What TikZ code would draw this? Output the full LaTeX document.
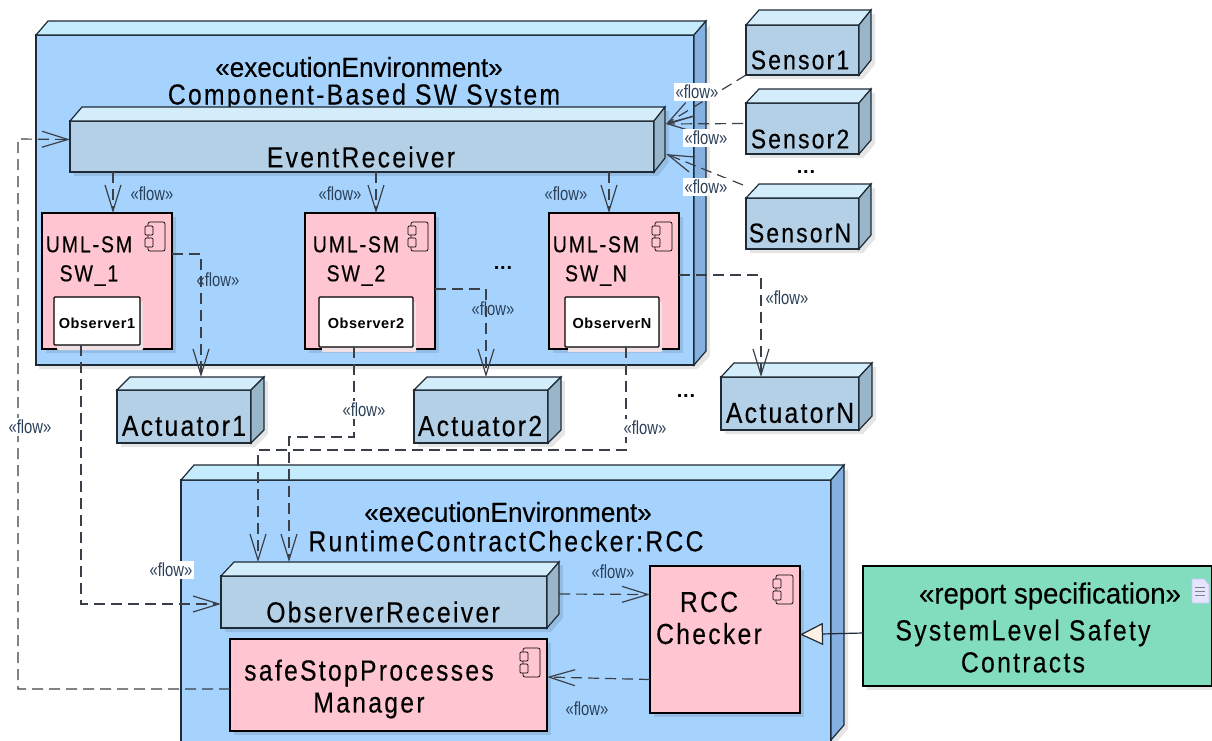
\documentclass[tikz,border=0pt]{standalone}
\usepackage{fontspec}
\setmainfont[LetterSpace=8, FakeStretch=0.85, FakeBold=0.25]{Liberation Sans}
\newfontfamily\stereofont[FakeStretch=0.95, FakeBold=0.25]{Liberation Sans}
\newfontfamily\flowfont[FakeStretch=0.78]{Liberation Sans}
\newfontfamily\obsfont[LetterSpace=4]{Liberation Sans}
\usepackage{tikz}
\usetikzlibrary{arrows.meta, shadows, calc}
\usepackage{xcolor}
\definecolor{envfront}{HTML}{A6D3FE}
\definecolor{envtop}{HTML}{C4ECFC}
\definecolor{envside}{HTML}{85B0E2}
\definecolor{cubefront}{HTML}{B4D0E6}
\definecolor{cubetop}{HTML}{D3EDFA}
\definecolor{cubeside}{HTML}{98B5C9}
\definecolor{compfill}{HTML}{FFC5D0}
\definecolor{specfill}{HTML}{82DCBE}
\definecolor{flowtext}{HTML}{2B4058}
\definecolor{edgecol}{HTML}{1E2A35}
\definecolor{flowcol}{HTML}{3A4048}
\tikzset{
	softshadow/.style={drop shadow={shadow xshift=4pt, shadow yshift=-4pt, fill=black, opacity=0.10}},
	envfrontbox/.style={draw=edgecol, line width=1.2pt, fill=envfront, anchor=north west, outer sep=0pt, inner sep=0pt},
	envtopface/.style={draw=edgecol, line width=1.2pt, fill=envtop},
	envsideface/.style={draw=edgecol, line width=1.2pt, fill=envside},
	cubefrontbox/.style={draw=edgecol, line width=1.2pt, fill=cubefront, anchor=north west, outer sep=0pt, inner sep=0pt},
	cubetopface/.style={draw=edgecol, line width=1.2pt, fill=cubetop},
	cubesideface/.style={draw=edgecol, line width=1.2pt, fill=cubeside},
	cubeshadow/.style={fill=black, opacity=0.10},
	compbox/.style={draw=black, line width=1.2pt, fill=compfill, anchor=north west, outer sep=0pt, inner sep=0pt, softshadow},
	observerbox/.style={draw=black, line width=1.2pt, fill=white, anchor=north west, outer sep=0pt, inner sep=0pt, rounded corners=1pt,
		drop shadow={shadow xshift=3pt, shadow yshift=-5pt, fill=compfill!80!black!30!white, opacity=1}},
	specbox/.style={draw=black, line width=1.2pt, fill=specfill, anchor=north west, outer sep=0pt, inner sep=0pt, softshadow},
	boxtext/.style={text=black, align=center, inner sep=0pt, font=\fontsize{29}{32}\selectfont},
	sensortext/.style={boxtext, font=\fontsize{27}{32}\selectfont},
	umltext/.style={boxtext, font=\fontsize{23}{29}\selectfont},
	stereotext/.style={text=black, inner sep=0pt, font=\stereofont\fontsize{27.5}{32}\selectfont},
	spectext/.style={stereotext, font=\stereofont\fontsize{29}{32}\selectfont},
	obstext/.style={text=black, inner sep=0pt, font=\obsfont\fontsize{14.5}{16}\selectfont\bfseries},
	dotstext/.style={text=black, inner sep=0pt, font=\obsfont\fontsize{20}{24}\selectfont\bfseries},
	flowlabel/.style={text=flowtext, inner sep=1pt, font=\flowfont\fontsize{19}{21}\selectfont},
	flowbox/.style={flowlabel, fill=white, inner sep=2pt},
	flow/.style={draw=flowcol, line width=1.2pt, dash pattern=on 11pt off 6pt, -{Straight Barb[length=26pt, width=16pt]}},
	realize/.style={draw=edgecol, line width=1.2pt, -{Triangle[open, length=23pt, width=22pt, fill=orange!10!white]}},
	compicon/.pic={
		\draw[black, fill=compfill, rounded corners=2pt, line width=0.7pt] (-24, 9) rectangle (-7, 38);
		\draw[black, fill=compfill, rounded corners=1pt, line width=0.7pt] (-27, 13) rectangle (-19, 22);
		\draw[black, fill=compfill, rounded corners=1pt, line width=0.7pt] (-27, 25) rectangle (-19, 34);
	},
	noteicon/.pic={
		\fill[blue!10!white, draw=blue!22!white, line width=0.8pt] (0, 0) -- (12, 0) -- (17, 6) -- (17, 24) -- (0, 24) -- cycle;
		\draw[gray, line width=0.8pt] (3, 8) -- (13, 8);
		\draw[gray, line width=0.8pt] (3, 12) -- (13, 12);
		\draw[gray, line width=0.8pt] (3, 16) -- (13, 16);
	}
}
\begin{document}
\begin{tikzpicture}[x=1pt, y=-1pt]
	\useasboundingbox (0, 0) rectangle (1212, 740);

	\fill[cubeshadow] (39, 38) -- (697, 38) -- (710, 25) -- (710, 356) -- (697, 369) -- (39, 369) -- cycle;
	\node[envfrontbox, minimum width=658pt, minimum height=330pt] (swsystem) at (36, 35) {};
	\draw[envtopface] (36, 35) -- (48, 21) -- (706, 21) -- (694, 35) -- cycle;
	\draw[envsideface] (694, 35) -- (706, 21) -- (706, 351) -- (694, 365) -- cycle;
	\node[stereotext] (swsystemstereo) at (359, 67) {«executionEnvironment»};
	\node[boxtext] (swsystemtext) at (364, 97) {Component-Based SW System};

	\fill[cubeshadow] (70, 121) -- (82, 107) -- (669, 111) -- (669, 162) -- (658, 176) -- (74, 176) -- cycle;
	\node[cubefrontbox, minimum width=584pt, minimum height=51pt] (eventreceiver) at (70, 121) {};
	\draw[cubetopface] (70, 121) -- (82, 107) -- (665, 107) -- (654, 121) -- cycle;
	\draw[cubesideface] (654, 121) -- (665, 107) -- (665, 158) -- (654, 172) -- cycle;
	\node[boxtext] (eventreceivertext) at (361, 157) {EventReceiver};

	\fill[cubeshadow] (750, 29) -- (875, 14) -- (875, 64) -- (863, 79) -- (750, 79) -- cycle;
	\node[cubefrontbox, minimum width=113pt, minimum height=50pt] (sensor1) at (746, 25) {};
	\draw[cubetopface] (746, 25) -- (759, 10) -- (871, 10) -- (859, 25) -- cycle;
	\draw[cubesideface] (859, 25) -- (871, 10) -- (871, 60) -- (859, 75) -- cycle;
	\node[sensortext] (sensor1text) at (800, 60) {Sensor1};

	\fill[cubeshadow] (750, 107) -- (875, 93) -- (875, 144) -- (863, 158) -- (750, 158) -- cycle;
	\node[cubefrontbox, minimum width=113pt, minimum height=51pt] (sensor2) at (746, 103) {};
	\draw[cubetopface] (746, 103) -- (759, 89) -- (871, 89) -- (859, 103) -- cycle;
	\draw[cubesideface] (859, 103) -- (871, 89) -- (871, 140) -- (859, 154) -- cycle;
	\node[sensortext] (sensor2text) at (800, 139) {Sensor2};

	\fill[cubeshadow] (750, 202) -- (875, 188) -- (875, 239) -- (863, 253) -- (750, 253) -- cycle;
	\node[cubefrontbox, minimum width=113pt, minimum height=51pt] (sensorN) at (746, 198) {};
	\draw[cubetopface] (746, 198) -- (759, 184) -- (871, 184) -- (859, 198) -- cycle;
	\draw[cubesideface] (859, 198) -- (871, 184) -- (871, 235) -- (859, 249) -- cycle;
	\node[sensortext] (sensorNtext) at (800, 233) {SensorN};
	\node[dotstext] (sensordots) at (806, 172) {...};

	\node[compbox, minimum width=130pt, minimum height=136pt] (umlsw1) at (42, 213) {};
	\pic at (umlsw1.north east) {compicon};
	\node[umltext] (umlsw1text) at (89, 261) {UML-SM\\SW\_1};
	\node[observerbox, minimum width=86pt, minimum height=48pt] (observer1) at (54, 297) {};
	\node[obstext] (observer1text) at (97, 323) {Observer1};

	\node[compbox, minimum width=130pt, minimum height=136pt] (umlsw2) at (305, 213) {};
	\pic at (umlsw2.north east) {compicon};
	\node[umltext] (umlsw2text) at (356, 261) {UML-SM\\SW\_2};
	\node[observerbox, minimum width=94pt, minimum height=50pt] (observer2) at (319, 297) {};
	\node[obstext] (observer2text) at (366, 323) {Observer2};

	\node[compbox, minimum width=130pt, minimum height=136pt] (umlswN) at (549, 213) {};
	\pic at (umlswN.north east) {compicon};
	\node[umltext] (umlswNtext) at (596, 261) {UML-SM\\SW\_N};
	\node[observerbox, minimum width=94pt, minimum height=50pt] (observerN) at (565, 297) {};
	\node[obstext] (observerNtext) at (612, 323) {ObserverN};
	\node[dotstext] (swdots) at (503, 268) {...};

	\fill[cubeshadow] (121, 394) -- (268, 381) -- (268, 434) -- (255, 447) -- (121, 447) -- cycle;
	\node[cubefrontbox, minimum width=134pt, minimum height=53pt] (actuator1) at (117, 390) {};
	\draw[cubetopface] (117, 390) -- (130, 377) -- (264, 377) -- (251, 390) -- cycle;
	\draw[cubesideface] (251, 390) -- (264, 377) -- (264, 430) -- (251, 443) -- cycle;
	\node[boxtext] (actuator1text) at (184, 426) {Actuator1};

	\fill[cubeshadow] (418, 394) -- (565, 381) -- (565, 434) -- (552, 447) -- (418, 447) -- cycle;
	\node[cubefrontbox, minimum width=134pt, minimum height=53pt] (actuator2) at (414, 390) {};
	\draw[cubetopface] (414, 390) -- (427, 377) -- (561, 377) -- (548, 390) -- cycle;
	\draw[cubesideface] (548, 390) -- (561, 377) -- (561, 430) -- (548, 443) -- cycle;
	\node[boxtext] (actuator2text) at (480, 426) {Actuator2};

	\fill[cubeshadow] (725, 381) -- (876, 367) -- (876, 420) -- (863, 434) -- (725, 434) -- cycle;
	\node[cubefrontbox, minimum width=138pt, minimum height=53pt] (actuatorN) at (721, 377) {};
	\draw[cubetopface] (721, 377) -- (734, 363) -- (872, 363) -- (859, 377) -- cycle;
	\draw[cubesideface] (859, 377) -- (872, 363) -- (872, 416) -- (859, 430) -- cycle;
	\node[boxtext] (actuatorNtext) at (790, 413) {ActuatorN};
	\node[dotstext] (actuatordots) at (686, 396) {...};

	\fill[cubeshadow] (848, 469) -- (848, 729) -- (835, 744) -- (831, 744) -- (831, 480) -- cycle;
	\node[envfrontbox, minimum width=650pt, minimum height=265pt] (rccenv) at (181, 480) {};
	\draw[envtopface] (181, 480) -- (194, 465) -- (844, 465) -- (831, 480) -- cycle;
	\draw[envsideface] (831, 480) -- (844, 465) -- (844, 725) -- (831, 740) -- cycle;
	\node[stereotext] (rccenvstereo) at (508, 512) {«executionEnvironment»};
	\node[boxtext] (rccenvtext) at (506, 541) {RuntimeContractChecker:RCC};

	\fill[cubeshadow] (225, 580) -- (563, 565) -- (563, 618) -- (551, 632) -- (225, 632) -- cycle;
	\node[cubefrontbox, minimum width=326pt, minimum height=52pt] (observerreceiver) at (221, 576) {};
	\draw[cubetopface] (221, 576) -- (234, 562) -- (559, 562) -- (547, 576) -- cycle;
	\draw[cubesideface] (547, 576) -- (559, 562) -- (559, 614) -- (547, 628) -- cycle;
	\node[boxtext] (observerreceivertext) at (383, 612) {ObserverReceiver};

	\node[compbox, minimum width=317pt, minimum height=92pt] (safestop) at (230, 639) {};
	\pic at (safestop.north east) {compicon};
	\node[boxtext] (safestoptext) at (369, 689) {safeStopProcesses\\Manager};

	\node[compbox, minimum width=150pt, minimum height=147pt] (rccchecker) at (650, 566) {};
	\pic at (rccchecker.north east) {compicon};
	\node[boxtext] (rcccheckertext) at (709, 618) {RCC\\Checker};

	\node[specbox, minimum width=349pt, minimum height=120pt] (safetyspec) at (863, 566) {};
	\pic at (1192, 579) {noteicon};
	\node[spectext] (safetyspecstereo) at (1050, 596) {«report specification»};
	\node[boxtext] (safetyspectext) at (1023, 646) {SystemLevel Safety\\Contracts};

	\draw[flow] (sensor1.south west) -- ([shift={(12pt, -3pt)}]eventreceiver.north east);
	\node[flowbox] (sensor1flow) at (697, 92) {«flow»};
	\draw[flow] ([shift={(-3pt, 5pt)}]sensor2.west) -- ([shift={(12pt, -3pt)}]eventreceiver.north east);
	\node[flowbox] (sensor2flow) at (706, 138) {«flow»};
	\draw[flow] ([shift={(-3pt, 13pt)}]sensorN.north west) -- ([shift={(12pt, 18pt)}]eventreceiver.south east);
	\node[flowbox] (sensorNflow) at (706, 187) {«flow»};

	\draw[flow] ([xshift=6pt]umlsw1.north |- eventreceiver.south) -- ([xshift=6pt]umlsw1.north);
	\node[flowlabel] (umlsw1flow) at (152, 194) {«flow»};
	\draw[flow] ([xshift=6pt]umlsw2.north |- eventreceiver.south) -- ([xshift=6pt]umlsw2.north);
	\node[flowlabel] (umlsw2flow) at (340, 194) {«flow»};
	\draw[flow] ([xshift=-5pt]umlswN.north |- eventreceiver.south) -- ([xshift=-5pt]umlswN.north);
	\node[flowlabel] (umlswNflow) at (566, 194) {«flow»};

	\draw[flow] ([yshift=27pt]umlsw1.east) -| ([shift={(17pt, 13pt)}]actuator1.north);
	\node[flowlabel] (actuator1flow) at (218, 280) {«flow»};
	\draw[flow] ([yshift=-8pt]umlsw2.east) -| ([shift={(5pt, 13pt)}]actuator2.north);
	\node[flowlabel] (actuator2flow) at (493, 309) {«flow»};
	\draw[flow] ([yshift=6pt]umlswN.east) -| ([xshift=-29pt]actuatorN.north);
	\node[flowlabel] (actuatorNflow) at (787, 298) {«flow»};

	\draw[flow] ([xshift=-16pt]observer1.south) |- ([yshift=-2pt]observerreceiver.west);
	\node[flowbox] (observer1flow) at (171, 570) {«flow»};
	\draw[flow] ([xshift=-12pt]observer2.south) -- ++(0, 90) -| ([shift={(-95pt, 14pt)}]observerreceiver.north);
	\node[flowbox] (observer2flow) at (364, 410) {«flow»};
	\draw[flow] ([xshift=14pt]observerN.south) -- ++(0, 103) -| ([shift={(-126pt, 14pt)}]observerreceiver.north);
	\node[flowbox] (observerNflow) at (645, 428) {«flow»};

	\draw[flow] (safestop.west |- safestoptext) -- (18, 689) -- (18, 139) -- ([yshift=7pt]eventreceiver.west);
	\node[flowbox] (safestopflow) at (30, 427) {«flow»};
	\draw[flow] ([shift={(12pt, 8pt)}]observerreceiver.east) -- ([yshift=45pt]rccchecker.west);
	\node[flowlabel] (rcccheckerflow) at (613, 572) {«flow»};
	\draw[flow] ([yshift=-40pt]rccchecker.west) -- ([yshift=8pt]safestop.east);
	\node[flowlabel] (safestopflowb) at (587, 709) {«flow»};

	\draw[realize] ([yshift=-7pt]safetyspec.west) -- ([yshift=5pt]rccchecker.east);
\end{tikzpicture}
\end{document}
